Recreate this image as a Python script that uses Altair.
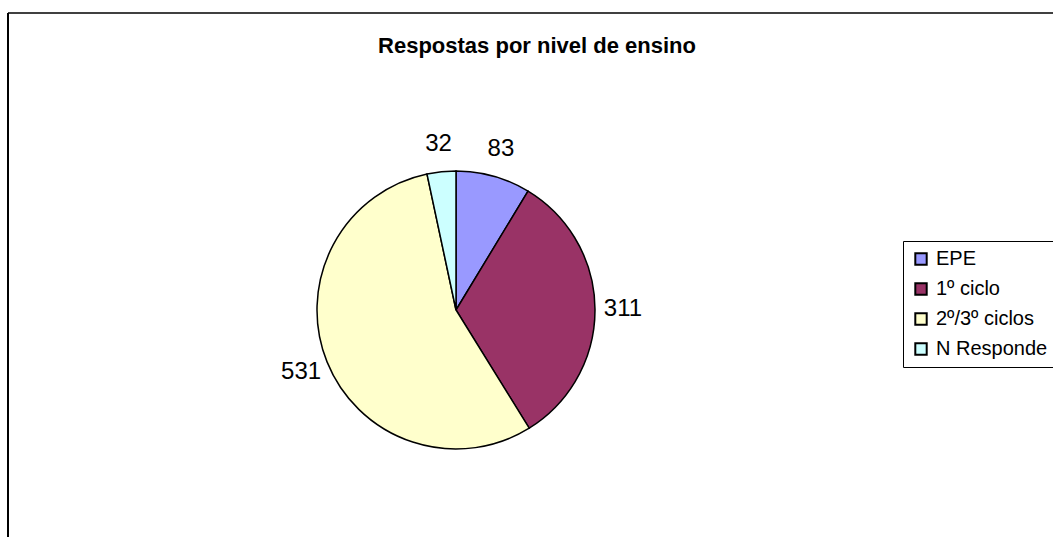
import altair as alt
import pandas as pd

categories = ["EPE", "\u20051º ciclo", "2º/3º ciclos", "N Responde"]
values = [83, 311, 531, 32]
colors = ["#9999FF", "#993366", "#FFFFCC", "#CCFFFF"]
title_text = "Respostas por nivel de ensino"

df = pd.DataFrame({"cat": categories, "val": values, "idx": list(range(len(values)))})

FONT = "Liberation Sans"
CX, CY, R = 456, 310, 139

base = alt.Chart(df).encode(
    theta=alt.Theta("val:Q", stack=True),
    order=alt.Order("idx:Q"),
)

arcs = base.mark_arc(stroke="black", strokeWidth=1.5, radius=R).encode(
    x=alt.value(CX), y=alt.value(CY),
    color=alt.Color(
        "cat:N",
        scale=alt.Scale(domain=categories, range=colors),
        legend=alt.Legend(
            title=None, orient="none", legendX=903, legendY=241,
            symbolType="square", symbolSize=130, symbolStrokeColor="black",
            symbolStrokeWidth=2, labelFont=FONT, labelFontSize=20,
            labelColor="black", rowPadding=10, labelOffset=5,
            padding=8, strokeColor="black", fillColor="white",
            labelLimit=300,
        ),
    ),
)

labels = base.mark_text(radius=167, font=FONT, fontSize=24, color="black").encode(
    x=alt.value(CX), y=alt.value(CY),
    text=alt.Text("val:Q"),
)

title_df = pd.DataFrame({"t": [title_text]})
title = alt.Chart(title_df).mark_text(
    font=FONT, fontSize=22, fontWeight="bold", color="black", baseline="alphabetic"
).encode(x=alt.value(537), y=alt.value(53), text="t:N")

border_df = pd.DataFrame({"a": [0]})
top_line = alt.Chart(border_df).mark_rule(color="#404040", strokeWidth=2).encode(
    x=alt.value(8), x2=alt.value(1053), y=alt.value(13)
)
left_line = alt.Chart(border_df).mark_rule(color="black", strokeWidth=2).encode(
    x=alt.value(8), y=alt.value(13), y2=alt.value(537)
)

chart = alt.layer(arcs, labels, title, top_line, left_line).properties(
    width=1053, height=537, padding=0,
    autosize=alt.AutoSizeParams(type="none"),
    background="white",
).configure_view(stroke=None)

chart.save("out.html", embed_options={"renderer": "svg", "actions": False})
